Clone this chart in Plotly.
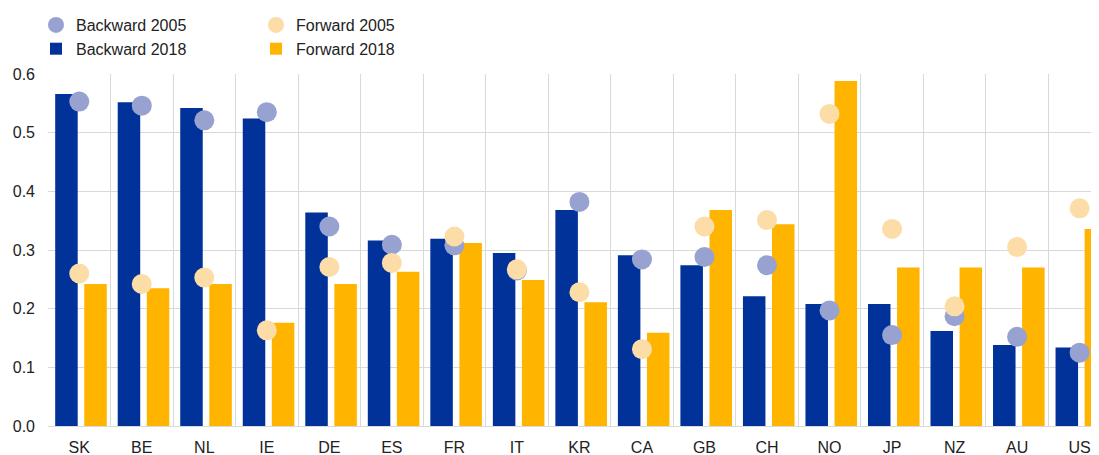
import plotly.graph_objects as go

countries = ["SK", "BE", "NL", "IE", "DE", "ES", "FR", "IT", "KR", "CA",
             "GB", "CH", "NO", "JP", "NZ", "AU", "US"]
backward_2018 = [0.566, 0.552, 0.542, 0.524, 0.364, 0.316, 0.319, 0.295, 0.368, 0.291,
                 0.274, 0.221, 0.208, 0.208, 0.162, 0.138, 0.134]
forward_2018 = [0.242, 0.235, 0.242, 0.176, 0.242, 0.263, 0.312, 0.249, 0.211, 0.159,
                0.368, 0.344, 0.588, 0.270, 0.270, 0.270, 0.336]
backward_2005 = [0.553, 0.546, 0.521, 0.535, 0.340, 0.309, 0.308, 0.265, 0.382, 0.284,
                 0.288, 0.274, 0.197, 0.155, 0.187, 0.152, 0.125]
forward_2005 = [0.260, 0.242, 0.253, 0.163, 0.271, 0.278, 0.323, 0.267, 0.228, 0.131,
                0.340, 0.351, 0.532, 0.336, 0.204, 0.305, 0.371]
y_ticks = [0.0, 0.1, 0.2, 0.3, 0.4, 0.5, 0.6]

DARK_BLUE = "#003299"
YELLOW = "#FFB400"
LIGHT_BLUE = "#98A2D1"
PEACH = "#FCDDA8"
GRID = "#d9d9d9"
FONT = "Liberation Sans, Arial, sans-serif"

W, H = 1091, 447  # page body has an 8px margin

fig = go.Figure()
fig.add_trace(go.Scatter(
    x=countries, y=backward_2005, name="Backward 2005", mode="markers",
    marker=dict(size=20, color=LIGHT_BLUE, line=dict(width=0)),
    legend="legend"))
fig.add_trace(go.Scatter(
    x=countries, y=forward_2005, name="Forward 2005", mode="markers",
    marker=dict(size=20, color=PEACH, line=dict(width=0)),
    legend="legend2"))
fig.add_trace(go.Bar(
    x=countries, y=backward_2018, name="Backward 2018",
    marker=dict(color=DARK_BLUE, line=dict(width=0)),
    offset=-0.385, width=0.36, legend="legend"))
fig.add_trace(go.Bar(
    x=countries, y=forward_2018, name="Forward 2018",
    marker=dict(color=YELLOW, line=dict(width=0)),
    offset=0.08, width=0.36, legend="legend2"))

legend_common = dict(
    xref="container", yref="container", xanchor="left", yanchor="top",
    font=dict(family=FONT, size=16, color="#222"),
    bgcolor="rgba(0,0,0,0)", borderwidth=0, orientation="v",
    tracegroupgap=0, itemwidth=30)

fig.update_layout(
    width=W, height=H,
    margin=dict(l=40, r=0, t=66, b=29, autoexpand=False),
    paper_bgcolor="white", plot_bgcolor="white",
    barmode="overlay",
    showlegend=True,
    font=dict(family=FONT, size=16, color="#222"),
    legend=dict(x=28 / W, y=1, **legend_common),
    legend2=dict(x=248 / W, y=1, **legend_common),
    xaxis=dict(
        type="category", categoryorder="array", categoryarray=countries,
        range=[-0.5, 16.31],
        showgrid=True, gridcolor=GRID, gridwidth=1, tickson="boundaries",
        ticks="", showline=False, zeroline=False,
        tickfont=dict(family=FONT, size=16, color="#222"),
        ticklabelstandoff=10),
    yaxis=dict(
        range=[0, 0.6], tickvals=y_ticks, tickformat=".1f",
        showgrid=True, gridcolor=GRID, gridwidth=1,
        zeroline=True, zerolinecolor=GRID, zerolinewidth=1,
        showline=False, ticks="",
        tickfont=dict(family=FONT, size=16, color="#222"),
        ticklabelstandoff=12),
)

fig.write_html("out.html")
